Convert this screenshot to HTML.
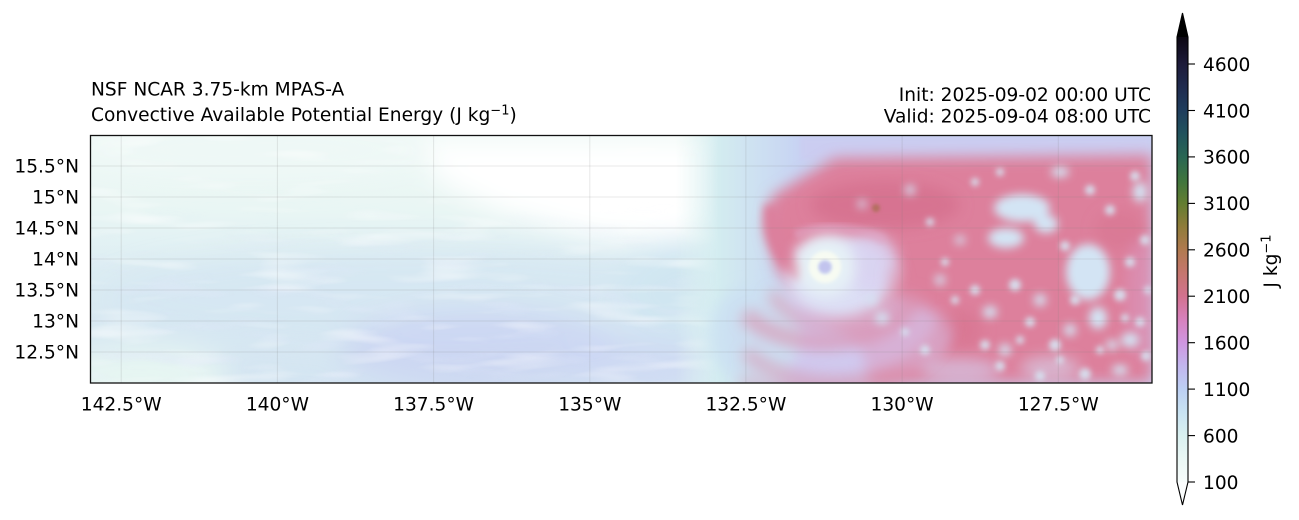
<!DOCTYPE html>
<html><head><meta charset="utf-8">
<style>
html,body{margin:0;padding:0;background:#fff;width:1299px;height:520px;overflow:hidden;}
svg{display:block;}
text{font-family:"DejaVu Sans","Liberation Sans",sans-serif;fill:#000;}
</style></head><body>
<svg width="1299" height="520" viewBox="0 0 1299 520" xmlns="http://www.w3.org/2000/svg">
<defs>
 <clipPath id="mapclip"><rect x="90" y="135" width="1062" height="248"/></clipPath>
 <filter id="bL" x="-50%" y="-50%" width="200%" height="200%"><feGaussianBlur stdDeviation="14"/></filter>
 <filter id="bM" x="-50%" y="-50%" width="200%" height="200%"><feGaussianBlur stdDeviation="7"/></filter>
 <filter id="bS" x="-50%" y="-50%" width="200%" height="200%"><feGaussianBlur stdDeviation="3"/></filter>
 <filter id="bB" x="-50%" y="-50%" width="200%" height="200%"><feGaussianBlur stdDeviation="4.5"/></filter>
 <filter id="bXS" x="-50%" y="-50%" width="200%" height="200%"><feGaussianBlur stdDeviation="1.5"/></filter>
 <filter id="nzW" x="0%" y="0%" width="100%" height="100%">
  <feTurbulence type="fractalNoise" baseFrequency="0.012 0.07" numOctaves="2" seed="4" result="n"/>
  <feColorMatrix in="n" type="matrix" values="0 0 0 0 1  0 0 0 0 1  0 0 0 0 1  3 0 0 0 -1.55"/>
 </filter>
 <filter id="nzB" x="0%" y="0%" width="100%" height="100%">
  <feTurbulence type="fractalNoise" baseFrequency="0.014 0.06" numOctaves="2" seed="11" result="n"/>
  <feColorMatrix in="n" type="matrix" values="0 0 0 0 0.76  0 0 0 0 0.81  0 0 0 0 0.95  3 0 0 0 -1.6"/>
 </filter>
 <linearGradient id="base" x1="0" y1="135" x2="0" y2="383" gradientUnits="userSpaceOnUse">
  <stop offset="0" stop-color="#eff9f6"/>
  <stop offset="0.3" stop-color="#e9f6f4"/>
  <stop offset="0.55" stop-color="#dcedf3"/>
  <stop offset="1" stop-color="#d4e5f2"/>
 </linearGradient>
 <linearGradient id="trans" x1="675" y1="0" x2="800" y2="0" gradientUnits="userSpaceOnUse">
  <stop offset="0" stop-color="#e4f5f2" stop-opacity="0"/>
  <stop offset="0.35" stop-color="#d3ecf0"/>
  <stop offset="1" stop-color="#c7d3f3"/>
 </linearGradient>
 <linearGradient id="mg" x1="0" y1="200" x2="0" y2="383" gradientUnits="userSpaceOnUse">
  <stop offset="0" stop-color="#000"/>
  <stop offset="0.5" stop-color="#fff"/>
  <stop offset="1" stop-color="#fff"/>
 </linearGradient>
 <mask id="lowmask"><rect x="90" y="135" width="690" height="248" fill="url(#mg)"/></mask>
 <linearGradient id="cbar" x1="0" y1="482" x2="0" y2="37" gradientUnits="userSpaceOnUse">
  <stop offset="0" stop-color="#f7fcfb"/>
  <stop offset="0.052" stop-color="#eaf7f5"/>
  <stop offset="0.104" stop-color="#d9f0f0"/>
  <stop offset="0.157" stop-color="#c8e2f2"/>
  <stop offset="0.209" stop-color="#bccff3"/>
  <stop offset="0.261" stop-color="#c2b6ee"/>
  <stop offset="0.313" stop-color="#cf96e0"/>
  <stop offset="0.365" stop-color="#d781bd"/>
  <stop offset="0.417" stop-color="#d2728f"/>
  <stop offset="0.470" stop-color="#c5766e"/>
  <stop offset="0.522" stop-color="#b07a4f"/>
  <stop offset="0.574" stop-color="#8f7c3a"/>
  <stop offset="0.626" stop-color="#637d31"/>
  <stop offset="0.678" stop-color="#3f753e"/>
  <stop offset="0.730" stop-color="#2a6653"/>
  <stop offset="0.783" stop-color="#21525d"/>
  <stop offset="0.835" stop-color="#1f3d5d"/>
  <stop offset="0.887" stop-color="#1f2b4e"/>
  <stop offset="0.939" stop-color="#1d1b3a"/>
  <stop offset="1" stop-color="#0c0712"/>
 </linearGradient>
</defs>

<!-- Titles -->
<text x="91" y="95.7" font-size="18.6">NSF NCAR 3.75-km MPAS-A</text>
<text x="91" y="121" font-size="18.6">Convective Available Potential Energy (J kg<tspan font-size="13" dy="-6.5">−1</tspan><tspan dy="6.5">)</tspan></text>
<text x="1151" y="100.8" font-size="18.6" text-anchor="end">Init: 2025-09-02 00:00 UTC</text>
<text x="1151" y="122.6" font-size="18.6" text-anchor="end">Valid: 2025-09-04 08:00 UTC</text>

<!-- Map -->
<g clip-path="url(#mapclip)">
 <rect x="90" y="135" width="1062" height="248" fill="url(#base)"/>
 <g filter="url(#bL)">
  <ellipse cx="250" cy="150" rx="190" ry="30" fill="#eef8f6"/>
  <ellipse cx="420" cy="300" rx="320" ry="50" fill="#d4e5f2" opacity="0.7"/>
  <ellipse cx="480" cy="350" rx="140" ry="40" fill="#c9d2f2" opacity="0.75"/>
  <ellipse cx="640" cy="362" rx="80" ry="28" fill="#ccd5f3" opacity="0.7"/>
  <ellipse cx="140" cy="375" rx="90" ry="30" fill="#e6f5f2"/>
  <ellipse cx="680" cy="290" rx="60" ry="50" fill="#d0e6f1"/>
  <path d="M420,140 L780,140 L770,165 L730,215 L680,240 L600,238 L500,212 L440,182 Z" fill="#ffffff"/>
 </g>
 <rect x="90" y="135" width="690" height="248" filter="url(#nzW)" opacity="0.45"/>
 <g mask="url(#lowmask)">
  <rect x="90" y="135" width="690" height="248" filter="url(#nzB)" opacity="0.4"/>
 </g>
 <rect x="675" y="135" width="477" height="248" fill="url(#trans)"/>
 <rect x="800" y="136" width="352" height="24" fill="#cbcdf1" filter="url(#bS)"/>
 <path d="M835,158 L1152,155 L1152,383 L870,383 L860,345 L805,305 L778,272 L765,228 L772,196 Z" fill="#dd809c" filter="url(#bM)"/>
 <g filter="url(#bM)">
  <ellipse cx="885" cy="205" rx="75" ry="24" fill="#d46e8c" opacity="0.7"/>
  <ellipse cx="960" cy="330" rx="22" ry="20" fill="#d7738f" opacity="0.6"/>
  <ellipse cx="1120" cy="230" rx="25" ry="20" fill="#d7738f" opacity="0.5"/>
  <ellipse cx="1140" cy="300" rx="14" ry="60" fill="#d8a0cc" opacity="0.4"/>
 </g>
 <g filter="url(#bM)">
  <ellipse cx="840" cy="335" rx="110" ry="45" fill="#d4c6ee" opacity="0.7"/>
  <ellipse cx="755" cy="335" rx="45" ry="50" fill="#cbe0f2" opacity="0.85"/>
  <ellipse cx="960" cy="370" rx="40" ry="12" fill="#d2d2f2" opacity="0.6"/>
  <ellipse cx="1050" cy="368" rx="30" ry="12" fill="#d6dcf4" opacity="0.55"/>
 </g>
 <ellipse cx="840" cy="278" rx="55" ry="42" fill="#dcdff5" filter="url(#bM)"/>
 <ellipse cx="872" cy="264" rx="26" ry="30" fill="#d9d2f1" opacity="0.8" filter="url(#bM)"/>
 <g fill="none" stroke="#dc8aa6" filter="url(#bM)">
  <path d="M772,292 A62,44 0 0 0 893,268" stroke-width="12" opacity="0.55"/>
  <path d="M745,314 A92,58 0 0 0 915,292" stroke-width="16" opacity="0.6"/>
  <path d="M745,352 A110,70 0 0 0 945,318" stroke-width="14" opacity="0.5"/>
  <path d="M740,380 A135,65 0 0 0 900,375" stroke-width="12" opacity="0.4"/>
 </g>
 <path d="M772,205 C770,235 780,258 803,274" stroke="#dc7f9c" stroke-width="16" fill="none" filter="url(#bB)"/>
 <path d="M795,235 C815,225 855,225 885,240" stroke="#e0a6c6" stroke-width="9" fill="none" opacity="0.55" filter="url(#bS)"/>
 <circle cx="825" cy="267" r="30" fill="#e6f1f6" filter="url(#bM)"/>
 <circle cx="825" cy="267" r="11.5" fill="none" stroke="#f7fbf2" stroke-width="9" filter="url(#bXS)"/>
 <circle cx="825" cy="267" r="6.5" fill="#c2c4ee" filter="url(#bXS)"/>
 <g fill="#d3e4f4" filter="url(#bB)">
  <ellipse cx="1022" cy="208" rx="28" ry="14"/>
  <ellipse cx="1006" cy="238" rx="18" ry="10"/>
  <ellipse cx="1046" cy="224" rx="12" ry="9"/>
  <ellipse cx="1088" cy="272" rx="22" ry="28"/>
  <ellipse cx="1098" cy="318" rx="9" ry="11"/>
  <ellipse cx="1130" cy="340" rx="9" ry="7"/>
  <ellipse cx="990" cy="312" rx="7" ry="6"/>
  <ellipse cx="882" cy="318" rx="7" ry="6"/>
  <ellipse cx="872" cy="300" rx="5" ry="5"/>
  <ellipse cx="1060" cy="172" rx="9" ry="5"/>
  <ellipse cx="1140" cy="192" rx="7" ry="10"/>
  <ellipse cx="910" cy="190" rx="5" ry="5"/>
  <ellipse cx="862" cy="204" rx="4" ry="4"/>
  <ellipse cx="1112" cy="345" rx="6" ry="5"/>
  <ellipse cx="1070" cy="330" rx="6" ry="6"/>
  <ellipse cx="1040" cy="300" rx="6" ry="6"/>
  <ellipse cx="940" cy="280" rx="5" ry="5"/>
  <ellipse cx="1005" cy="350" rx="6" ry="6"/>
  <ellipse cx="1120" cy="370" rx="8" ry="5"/>
  <ellipse cx="960" cy="240" rx="5" ry="4"/>
 </g>
 <g fill="#d6e6f4" filter="url(#bS)" opacity="0.9">
  <circle cx="975" cy="290" r="5"/><circle cx="1015" cy="285" r="6"/><circle cx="1030" cy="322" r="5"/>
  <circle cx="1055" cy="345" r="6"/><circle cx="1075" cy="300" r="5"/><circle cx="1120" cy="295" r="6"/>
  <circle cx="1140" cy="322" r="5"/><circle cx="1146" cy="356" r="5"/><circle cx="1085" cy="374" r="6"/>
  <circle cx="1040" cy="376" r="5"/><circle cx="985" cy="345" r="5"/><circle cx="955" cy="300" r="4"/>
  <circle cx="1000" cy="366" r="5"/><circle cx="1130" cy="262" r="5"/><circle cx="1145" cy="240" r="5"/>
  <circle cx="1110" cy="210" r="5"/><circle cx="1135" cy="176" r="5"/><circle cx="1090" cy="190" r="5"/>
  <circle cx="1065" cy="246" r="5"/><circle cx="925" cy="350" r="5"/><circle cx="905" cy="332" r="4"/>
  <circle cx="945" cy="262" r="4"/><circle cx="975" cy="182" r="4"/><circle cx="930" cy="222" r="4"/>
  <circle cx="1000" cy="172" r="4"/><circle cx="1100" cy="350" r="4"/><circle cx="1125" cy="318" r="4"/>
  <circle cx="1060" cy="360" r="4"/><circle cx="1020" cy="340" r="4"/><circle cx="1148" cy="290" r="4"/>
 </g>
 <circle cx="876" cy="208" r="4" fill="#b37060" filter="url(#bXS)"/>
 <g stroke="#808080" stroke-opacity="0.18" stroke-width="1">
  <line x1="121.2" y1="135" x2="121.2" y2="383"/>
  <line x1="277.4" y1="135" x2="277.4" y2="383"/>
  <line x1="433.6" y1="135" x2="433.6" y2="383"/>
  <line x1="589.8" y1="135" x2="589.8" y2="383"/>
  <line x1="745.9" y1="135" x2="745.9" y2="383"/>
  <line x1="902.1" y1="135" x2="902.1" y2="383"/>
  <line x1="1058.3" y1="135" x2="1058.3" y2="383"/>
  <line x1="90" y1="166" x2="1152" y2="166"/>
  <line x1="90" y1="197" x2="1152" y2="197"/>
  <line x1="90" y1="228" x2="1152" y2="228"/>
  <line x1="90" y1="259" x2="1152" y2="259"/>
  <line x1="90" y1="290" x2="1152" y2="290"/>
  <line x1="90" y1="321" x2="1152" y2="321"/>
  <line x1="90" y1="352" x2="1152" y2="352"/>
 </g>
</g>
<rect x="90.5" y="135.5" width="1061.5" height="247.5" fill="none" stroke="#111" stroke-width="1.3"/>

<g font-size="18.6" text-anchor="end">
 <text x="79" y="172.6">15.5°N</text>
 <text x="79" y="203.6">15°N</text>
 <text x="79" y="234.6">14.5°N</text>
 <text x="79" y="265.6">14°N</text>
 <text x="79" y="296.6">13.5°N</text>
 <text x="79" y="327.6">13°N</text>
 <text x="79" y="358.6">12.5°N</text>
</g>
<g font-size="18.6" text-anchor="middle">
 <text x="121.2" y="410.5">142.5°W</text>
 <text x="277.4" y="410.5">140°W</text>
 <text x="433.6" y="410.5">137.5°W</text>
 <text x="589.8" y="410.5">135°W</text>
 <text x="745.9" y="410.5">132.5°W</text>
 <text x="902.1" y="410.5">130°W</text>
 <text x="1058.3" y="410.5">127.5°W</text>
</g>

<rect x="1177" y="37" width="11" height="445" fill="url(#cbar)"/>
<path d="M1177,37 L1182.5,13 L1188,37 Z" fill="#000"/>
<path d="M1177,482 L1182.5,505 L1188,482 Z" fill="#fbfdfd"/>
<path d="M1177,482 L1182.5,505 L1188,482 L1188,37 L1182.5,13 L1177,37 Z" fill="none" stroke="#000" stroke-width="1.1"/>
<g stroke="#000" stroke-width="1.1">
 <line x1="1188" y1="482" x2="1195" y2="482"/>
 <line x1="1188" y1="435.6" x2="1195" y2="435.6"/>
 <line x1="1188" y1="389.1" x2="1195" y2="389.1"/>
 <line x1="1188" y1="342.7" x2="1195" y2="342.7"/>
 <line x1="1188" y1="296.2" x2="1195" y2="296.2"/>
 <line x1="1188" y1="249.8" x2="1195" y2="249.8"/>
 <line x1="1188" y1="203.4" x2="1195" y2="203.4"/>
 <line x1="1188" y1="156.9" x2="1195" y2="156.9"/>
 <line x1="1188" y1="110.5" x2="1195" y2="110.5"/>
 <line x1="1188" y1="64" x2="1195" y2="64"/>
</g>
<g font-size="18.6">
 <text x="1203" y="488.8">100</text>
 <text x="1203" y="442.4">600</text>
 <text x="1203" y="395.9">1100</text>
 <text x="1203" y="349.5">1600</text>
 <text x="1203" y="303">2100</text>
 <text x="1203" y="256.6">2600</text>
 <text x="1203" y="210.2">3100</text>
 <text x="1203" y="163.7">3600</text>
 <text x="1203" y="117.3">4100</text>
 <text x="1203" y="70.8">4600</text>
</g>
<text transform="translate(1277,261) rotate(-90)" font-size="18.6" text-anchor="middle">J kg<tspan font-size="13" dy="-6.5">−1</tspan></text>
</svg>
</body></html>
